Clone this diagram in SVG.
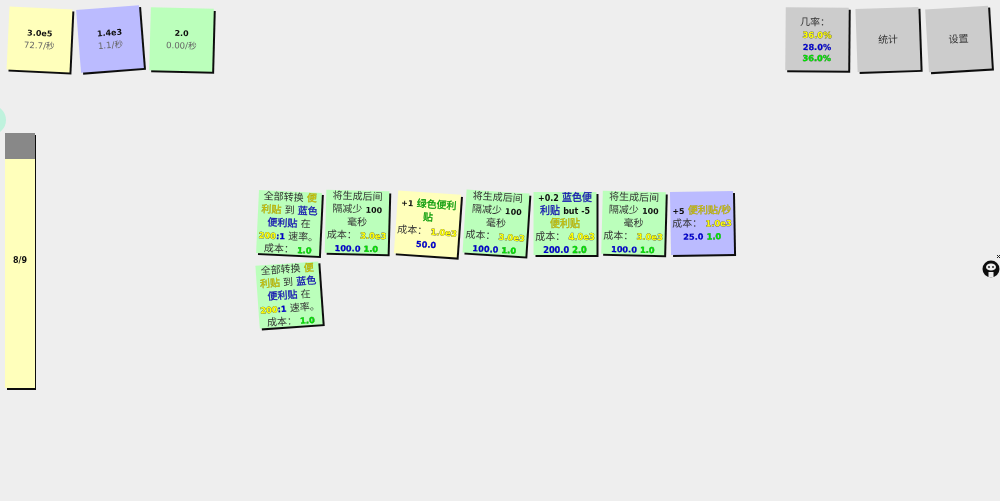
<svg xmlns="http://www.w3.org/2000/svg" width="1000" height="501" viewBox="0 0 1000 501">
<style>
text{font-family:"DejaVu Sans","Noto Sans CJK SC",sans-serif;font-size:10px;text-anchor:middle;fill:#333}
.n{font-size:8px;font-weight:bold;fill:#111}
.m{font-size:8.6px;fill:#666}
.y{fill:#ffff00;stroke:#444;stroke-width:.55;paint-order:stroke;font-weight:bold;font-size:8.4px}
.yc{fill:#c8bc00;stroke:#8a8400;stroke-width:.3;paint-order:stroke}
.b{fill:#0000cc;stroke:#000066;stroke-width:.2;paint-order:stroke;font-weight:bold;font-size:8.2px}
.bc{fill:#1414b0;stroke:#1414b0;stroke-width:.3}
.g{fill:#00e000;stroke:#115511;stroke-width:.35;paint-order:stroke;font-weight:bold;font-size:8.2px}
.gc{fill:#0c9c0c;stroke:#0c9c0c;stroke-width:.3}
.sh{fill:#111}
.Y{fill:#ffffbb}.B{fill:#bbbbff}.G{fill:#bbffbb}.H{fill:#cccccc}
</style>
<defs>
<filter id="soft" x="0" y="0" width="1" height="1"><feGaussianBlur stdDeviation=".25"/></filter>
<rect id="sd" class="sh" x="-29.5" y="-29.5" width="63" height="63"/>
<g id="conv">
<use href="#sd"/><rect class="G" x="-31.5" y="-31.5" width="63" height="63"/>
<text y="-22.5">全部转换 <tspan class="yc">便</tspan></text>
<text y="-9.5"><tspan class="yc">利贴</tspan> 到 <tspan class="bc">蓝色</tspan></text>
<text y="3.5"><tspan class="bc">便利贴</tspan> 在</text>
<text y="16.5"><tspan class="y">200</tspan><tspan class="b">:1</tspan> 速率。</text>
<text y="29.5">成本： <tspan class="g">1.0</tspan></text>
</g>
<g id="cool">
<use href="#sd"/><rect class="G" x="-31.5" y="-31.5" width="63" height="63"/>
<text y="-22.5">将生成后间</text>
<text y="-9.5">隔减少 <tspan class="n">100</tspan></text>
<text y="3.5">毫秒</text>
<text y="16.5">成本： <tspan class="y">3.0e3</tspan></text>
<text y="29.5"><tspan class="b">100.0</tspan> <tspan class="g">1.0</tspan></text>
</g>
</defs>
<g filter="url(#soft)">
<rect width="1000" height="501" fill="#eeeeee"/>
<circle cx="-9" cy="120" r="15" fill="#bff2dd"/>
<g id="res-yellow" transform="translate(39.5 39.5) rotate(2.7)"><use href="#sd"/><rect class="Y" x="-31.5" y="-31.5" width="63" height="63"/><text class="n" y="-3.5">3.0e5</text><text class="m" y="9">72.7/秒</text></g>
<g id="res-blue" transform="translate(110 39) rotate(-4.5)"><use href="#sd"/><rect class="B" x="-31.5" y="-31.5" width="63" height="63"/><text class="n" y="-3.5">1.4e3</text><text class="m" y="9">1.1/秒</text></g>
<g id="res-green" transform="translate(181.5 39.5) rotate(1.5)"><use href="#sd"/><rect class="G" x="-31.5" y="-31.5" width="63" height="63"/><text class="n" y="-3.5">2.0</text><text class="m" y="9">0.00/秒</text></g>
<g id="odds" transform="translate(817 39) rotate(.5)"><use href="#sd"/><rect class="H" x="-31.5" y="-31.5" width="63" height="63"/><text y="-13.5" x="-2">几率：</text><text class="y" y="-1">36.0%</text><text class="b" y="11">28.0%</text><text class="g" y="22">36.0%</text></g>
<g id="stats" transform="translate(888 39.5) rotate(-2)"><use href="#sd"/><rect class="H" x="-31.5" y="-31.5" width="63" height="63"/><text y="3.5">统计</text></g>
<g id="settings" transform="translate(958.5 39) rotate(-3.5)"><use href="#sd"/><rect class="H" x="-31.5" y="-31.5" width="63" height="63"/><text y="3.5">设置</text></g>
<g id="progress"><rect class="sh" x="7" y="135" width="29" height="255"/><rect class="Y" x="5" y="133" width="30" height="255"/><rect x="5" y="133" width="30" height="26" fill="#888888"/><text class="n" x="20" y="263">8/9</text></g>
<g id="card1"><use href="#conv" transform="translate(289 223) rotate(2.7)"/></g>
<g id="card2"><use href="#cool" transform="translate(357 222) rotate(1.5)"/></g>
<g id="card3" transform="translate(427.5 224) rotate(4)"><use href="#sd"/><rect class="Y" x="-31.5" y="-31.5" width="63" height="63"/>
<text y="-16.5"><tspan class="n">+1</tspan> <tspan class="gc">绿色便利</tspan></text><text y="-3.5" class="gc">贴</text><text y="10.5">成本： <tspan class="y">1.0e3</tspan></text><text y="23.5" class="b">50.0</text></g>
<g id="card4"><use href="#cool" transform="translate(496 223) rotate(3.7)"/></g>
<g id="card5" transform="translate(565 223.5)"><use href="#sd"/><rect class="G" x="-31.5" y="-31.5" width="63" height="63"/>
<text y="-22.5"><tspan class="n">+0.2</tspan> <tspan class="bc">蓝色便</tspan></text>
<text y="-9.5"><tspan class="bc">利贴</tspan> <tspan class="n">but -5</tspan></text>
<text y="3.5" class="yc">便利贴</text>
<text y="16.5">成本： <tspan class="y">4.0e3</tspan></text>
<text y="29.5"><tspan class="b">200.0</tspan> <tspan class="g">2.0</tspan></text></g>
<g id="card6"><use href="#cool" transform="translate(633.5 223) rotate(1.5)"/></g>
<g id="card7" transform="translate(702 223) rotate(-1)"><use href="#sd"/><rect class="B" x="-31.5" y="-31.5" width="63" height="63"/>
<text y="-9.5"><tspan class="n">+5</tspan> <tspan class="yc">便利贴/秒</tspan></text>
<text y="3.5">成本： <tspan class="y">1.0e3</tspan></text>
<text y="16.5"><tspan class="b">25.0</tspan> <tspan class="g">1.0</tspan></text></g>
<g id="card8"><use href="#conv" transform="translate(289 295) rotate(-4)"/></g>
<g id="github">
<circle cx="991" cy="269" r="8.5" fill="#111"/>
<ellipse cx="991" cy="267" rx="5" ry="3.6" fill="#eee"/>
<rect x="988.5" y="272" width="5" height="5.5" fill="#eee"/>
<circle cx="989" cy="267" r=".9" fill="#111"/><circle cx="993" cy="267" r=".9" fill="#111"/>
<path d="M997 255l3 3M1000 255l-3 3" stroke="#222" stroke-width="1"/>
</g>
</g>
</svg>
